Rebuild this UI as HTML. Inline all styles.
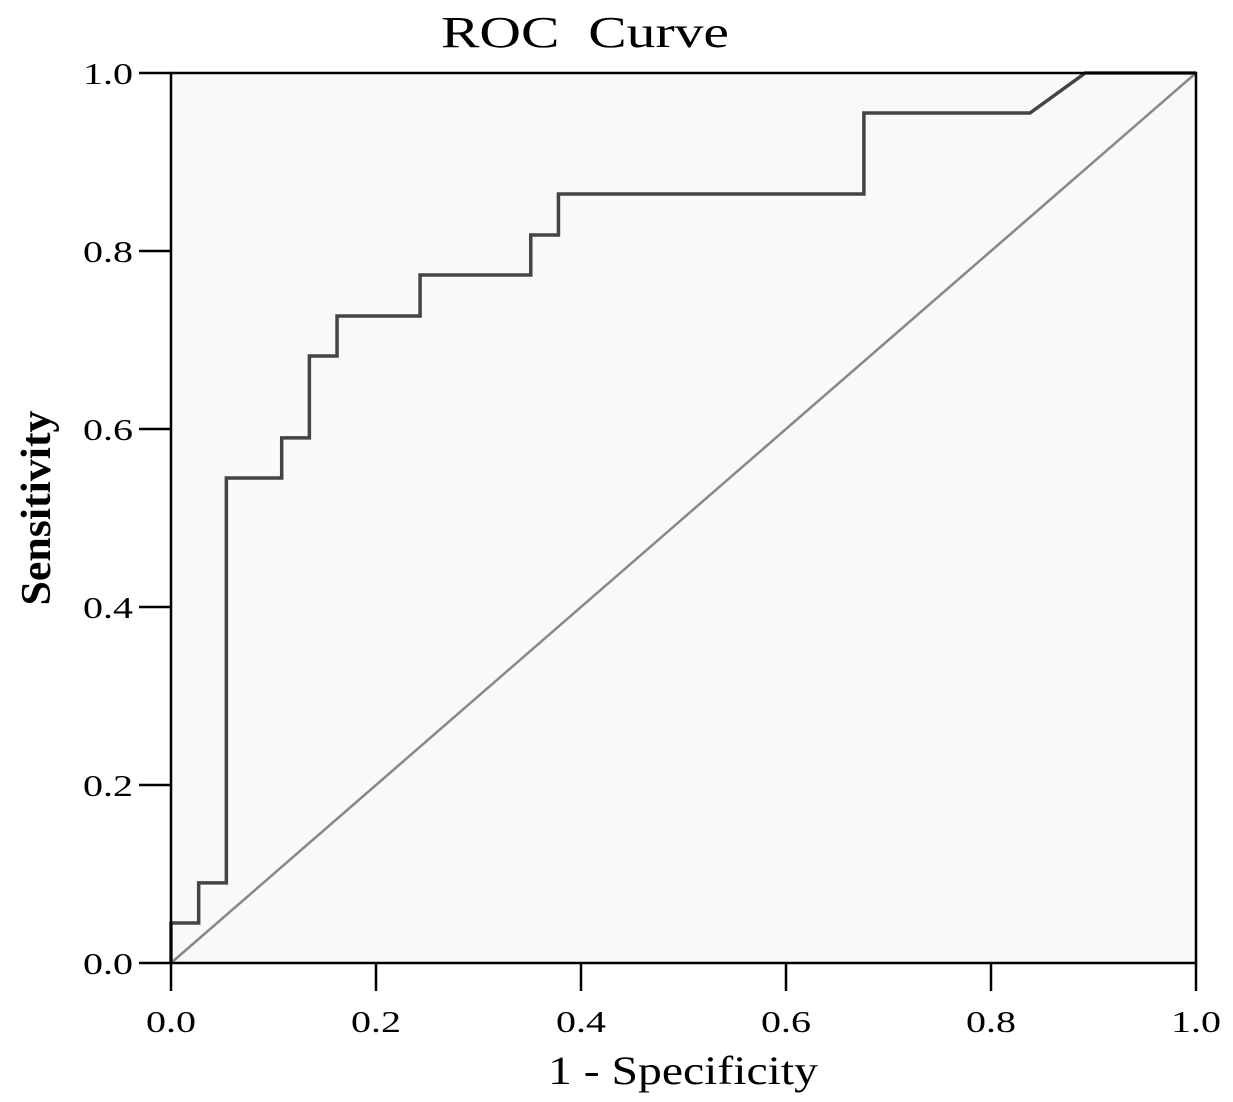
<!DOCTYPE html>
<html><head><meta charset="utf-8"><style>
html,body{margin:0;padding:0;background:#fff;}
svg{display:block;font-family:"Liberation Serif",serif;}
</style></head><body>
<svg id="chart" width="1233" height="1102">
<rect x="171" y="73" width="1025" height="890" fill="#f9f9f9"/>
<text x="585" y="47" font-size="44" text-anchor="middle" textLength="288" lengthAdjust="spacingAndGlyphs">ROC&#160;&#160;Curve</text>
<text x="683" y="1084" font-size="40" text-anchor="middle" textLength="270" lengthAdjust="spacingAndGlyphs">1 - Specificity</text>
<text transform="translate(50,508) rotate(-90)" font-size="42" font-weight="bold" text-anchor="middle" textLength="195" lengthAdjust="spacingAndGlyphs">Sensitivity</text>
<g id="g"></g>
</svg>
<script>
const fprValues=[0,0,0.027,0.027,0.054,0.054,0.108,0.108,0.135,0.135,0.162,0.162,0.243,0.243,0.351,0.351,0.378,0.378,0.676,0.676,0.838,0.892,1];
const tprValues=[0,0.045,0.045,0.09,0.09,0.545,0.545,0.59,0.59,0.682,0.682,0.727,0.727,0.773,0.773,0.818,0.818,0.864,0.864,0.955,0.955,1,1];
const tickLabels=["0.0","0.2","0.4","0.6","0.8","1.0"];
const tickValues=[0,0.2,0.4,0.6,0.8,1];
const X0=171,X1=1196,Y0=963,Y1=73;
const sx=v=>X0+v*(X1-X0), sy=v=>Y0-v*(Y0-Y1);
const g=document.getElementById('g'),NS='http://www.w3.org/2000/svg';
function mk(t,a){const e=document.createElementNS(NS,t);for(const k in a)e.setAttribute(k,a[k]);g.appendChild(e);return e;}
let e=mk('line',{x1:sx(0),y1:sy(0),x2:sx(1),y2:sy(1),stroke:'#888','stroke-width':2.5});


e=mk('polyline',{points:fprValues.map((v,i)=>sx(v)+','+sy(tprValues[i])).join(' '),fill:'none',stroke:'#444','stroke-width':3.5});


e=mk('rect',{x:X0,y:Y1,width:X1-X0,height:Y0-Y1,fill:'none',stroke:'#000','stroke-width':2.5});


tickValues.forEach((v,i)=>{
 let t=mk('line',{x1:X0-32,y1:sy(v),x2:X0,y2:sy(v),stroke:'#000','stroke-width':2.5});
 
 
 t=mk('text',{x:X0-38,y:sy(v)+11,'font-size':31,'text-anchor':'end',textLength:50,lengthAdjust:'spacingAndGlyphs'});t.textContent=tickLabels[i];
 
 
 t=mk('line',{x1:sx(v),y1:Y0,x2:sx(v),y2:Y0+28,stroke:'#000','stroke-width':2.5});
 
 
 t=mk('text',{x:sx(v),y:Y0+69,'font-size':31,'text-anchor':'middle',textLength:50,lengthAdjust:'spacingAndGlyphs'});t.textContent=tickLabels[i];
 
 
});
</script>
</body></html>
